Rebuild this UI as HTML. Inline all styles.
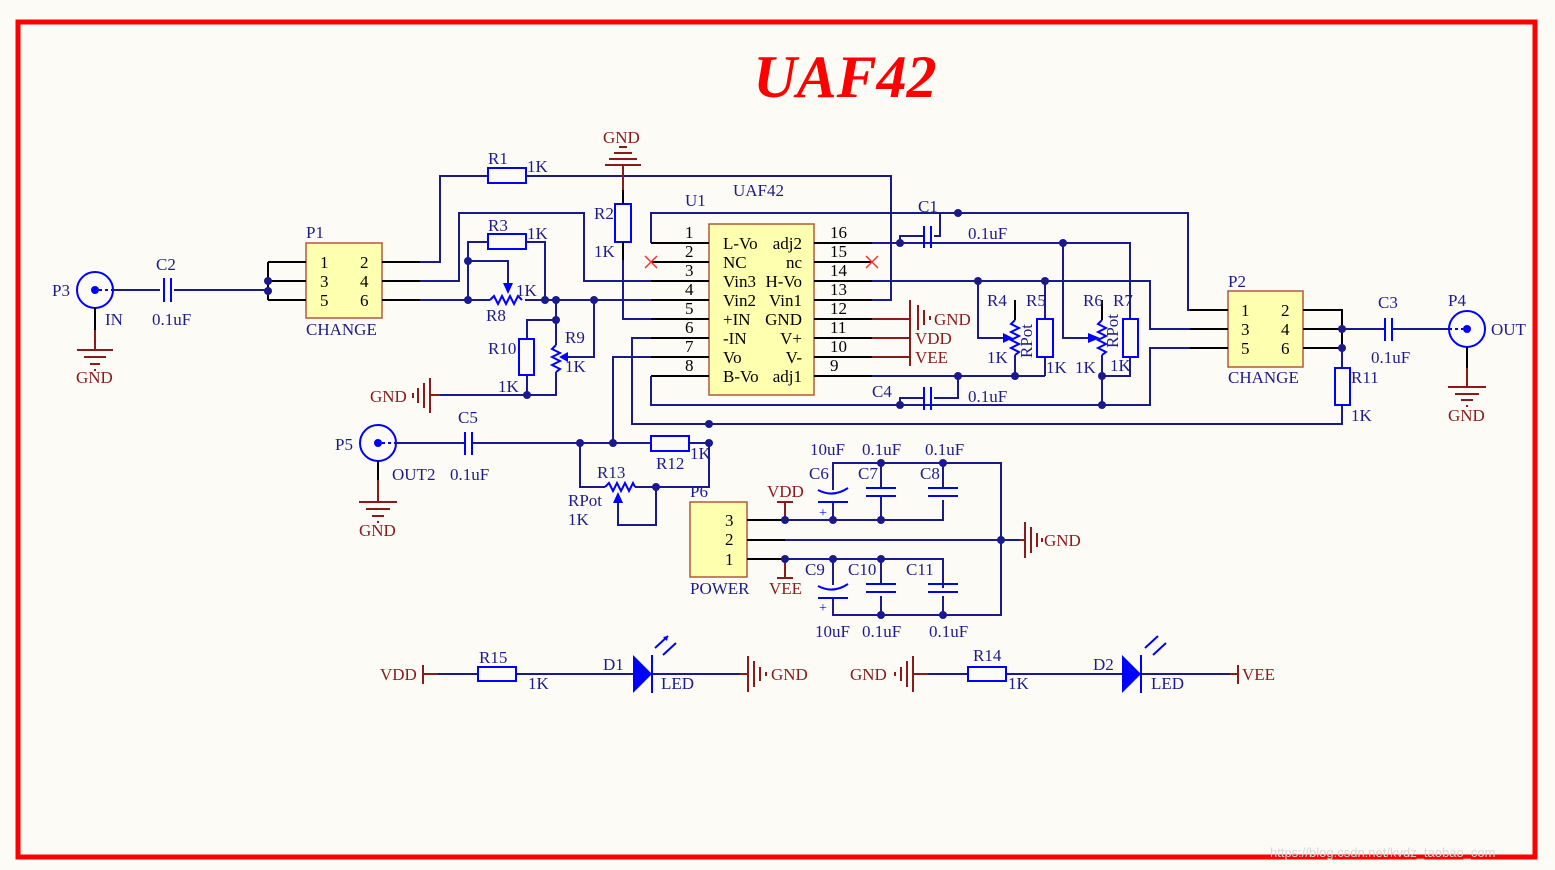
<!DOCTYPE html>
<html><head><meta charset="utf-8"><style>
html,body{margin:0;padding:0;background:#fdfbf6;}
svg{display:block}
text{font-family:"Liberation Serif",serif;font-size:17px;fill:#1c1c8a}
.r{fill:#8b1a1a}
.k{fill:#000}
.w{stroke:#1a1a8c;stroke-width:2;fill:none}
.b{stroke:#000;stroke-width:2;fill:none}
.c{stroke:#0000ff;stroke-width:2;fill:none}
.rd{stroke:#8b1a1a;stroke-width:2;fill:none}
.d{fill:#1a1a8c}
</style></head><body>
<svg width="1555" height="870" viewBox="0 0 1555 870" xmlns="http://www.w3.org/2000/svg">
<rect x="0" y="0" width="1555" height="870" fill="#fdfbf6"/>
<rect x="18" y="22" width="1517" height="835" fill="none" stroke="#ff0000" stroke-width="5"/>
<text x="845" y="97" text-anchor="middle" style="font-size:60px;font-weight:bold;font-style:italic;fill:#ff0000">UAF42</text>

<circle cx="95" cy="290" r="18" class="c"/><circle cx="95" cy="290" r="4" fill="#0000ff"/>
<line x1="99" y1="290" x2="113" y2="290" stroke="#0000ff" stroke-width="2" stroke-dasharray="3,3"/>
<path class="w" d="M113 290H160M174 290H268"/>
<path class="c" d="M164 278V302M171 278V302"/>
<path class="b" d="M95 308V330"/><path class="rd" d="M95 330V350M77 350H113M84 357H106M90 364H100M94 370H96"/>
<text x="52" y="296">P3</text><text x="105" y="325">IN</text><text x="156" y="270">C2</text><text x="152" y="325">0.1uF</text><text class="r" x="76" y="383">GND</text>

<rect x="306" y="243" width="76" height="75" fill="#ffffb0" stroke="#b05a3a" stroke-width="1.5"/>
<path class="b" d="M268 262H306M268 281H306M268 300H306M268 262V300M382 262H420M382 281H420M382 300H420"/>
<circle class="d" cx="268" cy="281" r="4"/><circle class="d" cx="268" cy="291" r="4"/>
<text class="k" x="320" y="268">1</text><text class="k" x="360" y="268">2</text><text class="k" x="320" y="287">3</text><text class="k" x="360" y="287">4</text><text class="k" x="320" y="306">5</text><text class="k" x="360" y="306">6</text>
<text x="306" y="238">P1</text><text x="306" y="335">CHANGE</text>
<path class="w" d="M420 262H440V176H488M526 176H891V300H872M420 281H459V213H584V281H651M420 300H490M525 300H651"/>
<rect x="488" y="168" width="38" height="15" class="c"/>
<text x="488" y="164">R1</text><text x="527" y="172">1K</text>
<rect x="488" y="234" width="38" height="15" class="c"/>
<path class="w" d="M468 300V242H488M526 242H545V300M468 261H508V284"/>
<path d="M503 283L513 283L508 294Z" fill="#0000ff"/>
<path class="c" d="M490 300L494 296L498 304L502 296L506 304L510 296L514 304L518 296L522 300"/>
<circle class="d" cx="468" cy="261" r="4"/><circle class="d" cx="468" cy="300" r="4"/><circle class="d" cx="545" cy="300" r="4"/><circle class="d" cx="556" cy="300" r="4"/><circle class="d" cx="594" cy="300" r="4"/>
<text x="488" y="231">R3</text><text x="527" y="239">1K</text><text x="516" y="296">1K</text><text x="486" y="321">R8</text>
<path class="w" d="M556 300V345M556 372V395H527V375M527 339V320H556M594 300V357H568M527 395H440"/>
<circle class="d" cx="556" cy="320" r="4"/><circle class="d" cx="527" cy="395" r="4"/>
<path class="c" d="M556 345L552 349L560 353L552 357L560 361L552 365L560 369L556 372"/>
<path d="M568 352L568 362L559 357Z" fill="#0000ff"/>
<rect x="519" y="339" width="15" height="36" class="c"/>
<path class="rd" d="M440 395H430M430 378V413M424 383V408M418 388V403M413 393V398"/>
<text x="565" y="343">R9</text><text x="565" y="372">1K</text><text x="488" y="354">R10</text><text x="498" y="392">1K</text><text class="r" x="370" y="402">GND</text>

<rect x="615" y="204" width="16" height="38" class="c"/>
<path class="b" d="M623 190V204M623 242V260"/><path class="w" d="M623 260V319H651"/>
<path class="rd" d="M623 190V165M605 165H641M609 159H637M614 153H632M619 147H627"/>
<text class="r" x="603" y="143">GND</text><text x="594" y="219">R2</text><text x="594" y="257">1K</text>

<rect x="709" y="224" width="105" height="171" fill="#ffffb0" stroke="#b05a3a" stroke-width="1.5"/>
<path class="b" d="M651 243H709M651 262H709M651 281H709M651 300H709M651 319H709M651 338H709M651 357H709M651 376H709M814 243H872M814 262H872M814 281H872M814 300H872M814 319H872M814 338H872M814 357H872M814 376H872"/>
<text class="k" x="685" y="238">1</text><text class="k" x="685" y="257">2</text><text class="k" x="685" y="276">3</text><text class="k" x="685" y="295">4</text><text class="k" x="685" y="314">5</text><text class="k" x="685" y="333">6</text><text class="k" x="685" y="352">7</text><text class="k" x="685" y="371">8</text>
<text class="k" x="830" y="238">16</text><text class="k" x="830" y="257">15</text><text class="k" x="830" y="276">14</text><text class="k" x="830" y="295">13</text><text class="k" x="830" y="314">12</text><text class="k" x="830" y="333">11</text><text class="k" x="830" y="352">10</text><text class="k" x="830" y="371">9</text>
<text class="k" x="723" y="249">L-Vo</text><text class="k" x="723" y="268">NC</text><text class="k" x="723" y="287">Vin3</text><text class="k" x="723" y="306">Vin2</text><text class="k" x="723" y="325">+IN</text><text class="k" x="723" y="344">-IN</text><text class="k" x="723" y="363">Vo</text><text class="k" x="723" y="382">B-Vo</text>
<g text-anchor="end"><text class="k" x="802" y="249">adj2</text><text class="k" x="802" y="268">nc</text><text class="k" x="802" y="287">H-Vo</text><text class="k" x="802" y="306">Vin1</text><text class="k" x="802" y="325">GND</text><text class="k" x="802" y="344">V+</text><text class="k" x="802" y="363">V-</text><text class="k" x="802" y="382">adj1</text></g>
<text x="685" y="206">U1</text><text x="733" y="196">UAF42</text>
<path d="M645 256L657 268M657 256L645 268M866 256L878 268M878 256L866 268" stroke="#ff3030" stroke-width="1.5"/>
<path class="w" d="M651 243V213H1188V310H1228M651 338H632V424H1342V405M651 357H613V443M651 376V405H1150V348H1228"/>
<path class="w" d="M872 243H1130V319M900 243V236H924M934 236H940V213M1063 243V338H1088"/>
<path class="c" d="M924 226V248M931 226V248"/>
<circle class="d" cx="900" cy="243" r="4"/><circle class="d" cx="958" cy="213" r="4"/><circle class="d" cx="1063" cy="243" r="4"/>
<text x="918" y="212">C1</text><text x="968" y="239">0.1uF</text>
<path class="w" d="M872 376H1045M958 376V398H934M924 398H900V405"/>
<path class="c" d="M924 387V410M931 387V410"/>
<circle class="d" cx="958" cy="376" r="4"/><circle class="d" cx="900" cy="405" r="4"/><circle class="d" cx="1015" cy="376" r="4"/>
<text x="872" y="397">C4</text><text x="968" y="402">0.1uF</text>
<path class="rd" d="M872 319H910M872 338H910M872 357H910M910 300V366M918 305V330M924 310V325M930 316V320"/>
<text class="r" x="934" y="325">GND</text><text class="r" x="915" y="344">VDD</text><text class="r" x="915" y="363">VEE</text>
<path class="w" d="M872 281H1150V329H1228M978 281V338H1005M1045 281V319M1045 357V376M1015 355V376"/>
<circle class="d" cx="978" cy="281" r="4"/><circle class="d" cx="1045" cy="281" r="4"/>
<path class="b" d="M1015 300V320M1102 300V320"/>
<path class="c" d="M1015 320L1011 324L1019 328L1011 332L1019 336L1011 340L1019 344L1011 348L1019 352L1015 355"/>
<path d="M1003 333L1003 343L1013 338Z" fill="#0000ff"/>
<rect x="1037" y="319" width="16" height="38" class="c"/>
<path class="c" d="M1102 320L1098 324L1106 328L1098 332L1106 336L1098 340L1106 344L1098 348L1106 352L1102 355"/>
<path d="M1088 333L1088 343L1100 338Z" fill="#0000ff"/>
<rect x="1123" y="319" width="15" height="38" class="c"/>
<path class="w" d="M1102 355V405M1130 357V376H1102"/>
<circle class="d" cx="1102" cy="376" r="4"/><circle class="d" cx="1102" cy="405" r="4"/>
<text x="987" y="306">R4</text><text x="1026" y="306">R5</text><text x="1083" y="306">R6</text><text x="1113" y="306">R7</text>
<text x="987" y="363">1K</text><text x="1046" y="373">1K</text><text x="1075" y="373">1K</text><text x="1110" y="371">1K</text>
<text x="1032" y="358" transform="rotate(-90 1032 358)">RPot</text><text x="1118" y="348" transform="rotate(-90 1118 348)">RPot</text>

<rect x="1228" y="291" width="75" height="76" fill="#ffffb0" stroke="#b05a3a" stroke-width="1.5"/>
<path class="b" d="M1190 310H1228M1190 329H1228M1190 348H1228M1303 310H1342V348M1303 329H1342M1303 348H1342"/>
<text class="k" x="1241" y="316">1</text><text class="k" x="1281" y="316">2</text><text class="k" x="1241" y="335">3</text><text class="k" x="1281" y="335">4</text><text class="k" x="1241" y="354">5</text><text class="k" x="1281" y="354">6</text>
<text x="1228" y="287">P2</text><text x="1228" y="383">CHANGE</text>
<circle class="d" cx="1342" cy="329" r="4"/><circle class="d" cx="1342" cy="348" r="4"/>
<path class="w" d="M1342 329H1385M1393 329H1449M1342 348V368"/>
<path class="c" d="M1385 318V341M1392 318V341"/>
<rect x="1335" y="368" width="15" height="37" class="c"/>
<text x="1378" y="308">C3</text><text x="1371" y="363">0.1uF</text><text x="1351" y="383">R11</text><text x="1351" y="421">1K</text>
<circle cx="1467" cy="329" r="18" class="c"/><circle cx="1467" cy="329" r="4" fill="#0000ff"/>
<line x1="1449" y1="329" x2="1463" y2="329" stroke="#0000ff" stroke-width="2" stroke-dasharray="3,3"/>
<path class="b" d="M1467 347V368"/><path class="rd" d="M1467 368V387M1448 387H1486M1455 394H1479M1461 400H1473M1466 406H1468"/>
<text x="1448" y="306">P4</text><text x="1491" y="335">OUT</text><text class="r" x="1448" y="421">GND</text>

<circle cx="378" cy="443" r="18" class="c"/><circle cx="378" cy="443" r="4" fill="#0000ff"/>
<line x1="382" y1="443" x2="396" y2="443" stroke="#0000ff" stroke-width="2" stroke-dasharray="3,3"/>
<path class="w" d="M396 443H465M472 443H651M689 443H709V487H656M580 443V487H605M635 487H656V525H618V503"/>
<path class="c" d="M465 432V455M472 432V455"/>
<path class="b" d="M378 461V480"/><path class="rd" d="M378 480V502M359 502H397M366 509H390M372 516H384M377 522H379"/>
<text x="335" y="450">P5</text><text x="392" y="480">OUT2</text><text x="450" y="480">0.1uF</text><text x="458" y="423">C5</text><text class="r" x="359" y="536">GND</text>
<rect x="651" y="436" width="38" height="15" class="c"/>
<circle class="d" cx="580" cy="443" r="4"/><circle class="d" cx="613" cy="443" r="4"/><circle class="d" cx="709" cy="443" r="4"/><circle class="d" cx="709" cy="424" r="4"/><circle class="d" cx="656" cy="487" r="4"/>
<path class="c" d="M605 487L609 483L613 491L617 483L621 491L625 483L629 491L633 483L635 487"/>
<path d="M613 503L623 503L618 492Z" fill="#0000ff"/>
<text x="656" y="469">R12</text><text x="690" y="459">1K</text><text x="597" y="478">R13</text><text x="568" y="506">RPot</text><text x="568" y="525">1K</text>

<rect x="690" y="502" width="57" height="75" fill="#ffffb0" stroke="#b05a3a" stroke-width="1.5"/>
<text class="k" x="725" y="526">3</text><text class="k" x="725" y="545">2</text><text class="k" x="725" y="565">1</text>
<text x="690" y="497">P6</text><text x="690" y="594">POWER</text>
<path class="b" d="M747 520H785M747 540H785M747 559H785"/>
<path class="w" d="M785 520H943V500M833 520V502M881 520V496M833 490V463H1001V615H833V598M881 463V488M943 463V488M785 540H1020M785 559H943V588M833 559V585M881 559V584M881 615V596M943 615V596"/>
<path class="rd" d="M785 520V502M777 502H793M785 559V578M777 578H793"/>
<path class="rd" d="M1020 540H1025M1025 522V558M1031 527V553M1037 533V547M1042 538V542"/>
<path class="c" d="M818 502H848M818 490Q833 498 848 488M866 488H896M866 496H896M928 488H958M928 496H958M818 598H848M818 586Q833 594 848 584M866 584H896M866 592H896M928 584H958M928 592H958"/>
<text x="819" y="517" style="fill:#0000ff;font-size:14px">+</text><text x="819" y="612" style="fill:#0000ff;font-size:14px">+</text>
<circle class="d" cx="785" cy="520" r="4"/><circle class="d" cx="833" cy="520" r="4"/><circle class="d" cx="881" cy="520" r="4"/><circle class="d" cx="881" cy="463" r="4"/><circle class="d" cx="943" cy="463" r="4"/><circle class="d" cx="1001" cy="540" r="4"/><circle class="d" cx="785" cy="559" r="4"/><circle class="d" cx="833" cy="559" r="4"/><circle class="d" cx="881" cy="559" r="4"/><circle class="d" cx="881" cy="615" r="4"/><circle class="d" cx="943" cy="615" r="4"/>
<text class="r" x="767" y="497">VDD</text><text class="r" x="769" y="594">VEE</text><text class="r" x="1044" y="546">GND</text>
<text x="810" y="455">10uF</text><text x="862" y="455">0.1uF</text><text x="925" y="455">0.1uF</text>
<text x="809" y="479">C6</text><text x="858" y="479">C7</text><text x="920" y="479">C8</text>
<text x="805" y="575">C9</text><text x="848" y="575">C10</text><text x="906" y="575">C11</text>
<text x="815" y="637">10uF</text><text x="862" y="637">0.1uF</text><text x="929" y="637">0.1uF</text>

<path class="rd" d="M423 665V684M423 674H438M740 674H748M748 656V692M754 661V687M760 667V681M766 672V676"/>
<path class="w" d="M438 674H478M516 674H633M652 674H740"/>
<rect x="478" y="667" width="38" height="14" class="c"/>
<path d="M633 655L633 693L652 674Z" fill="#0000ff"/><path class="c" d="M652 655V693M655 648L668 636M663 655L676 643"/>
<path d="M668 636L663 637L667 641Z" fill="#0000ff"/>
<text class="r" x="380" y="680">VDD</text><text x="479" y="663">R15</text><text x="528" y="689">1K</text><text x="603" y="670">D1</text><text x="661" y="689">LED</text><text class="r" x="771" y="680">GND</text>
<path class="rd" d="M895 672V676M901 667V681M907 661V687M913 656V692M913 674H928M1230 674H1238M1238 665V684"/>
<path class="w" d="M928 674H968M1006 674H1122M1141 674H1230"/>
<rect x="968" y="667" width="38" height="14" class="c"/>
<path d="M1122 655L1122 693L1141 674Z" fill="#0000ff"/><path class="c" d="M1141 655V693M1145 648L1158 636M1153 655L1166 643"/>
<text class="r" x="850" y="680">GND</text><text x="973" y="661">R14</text><text x="1008" y="689">1K</text><text x="1093" y="670">D2</text><text x="1151" y="689">LED</text><text class="r" x="1242" y="680">VEE</text>
<text x="1270" y="857" style="fill:#d8d8d8;font-family:'Liberation Sans',sans-serif;font-size:13px">https://blog.csdn.net/kvdz_taobao_com</text>
</svg>
</body></html>
